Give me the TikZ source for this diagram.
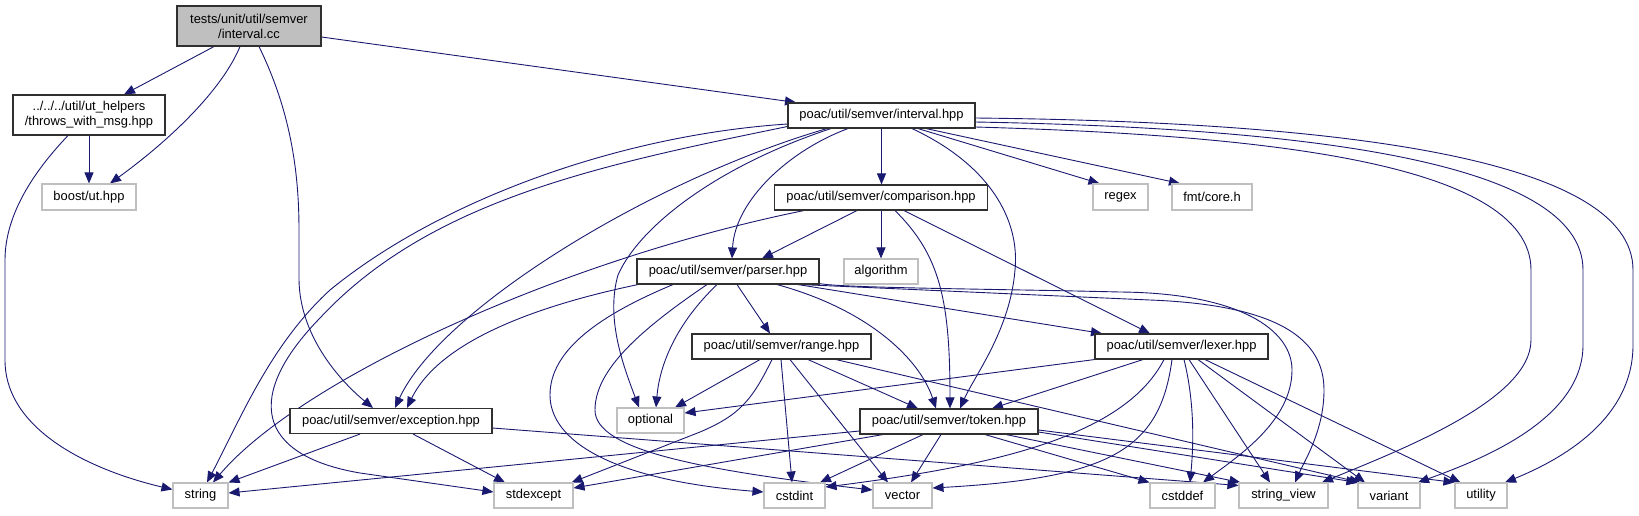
\documentclass[tikz,border=0pt]{standalone}
\usepackage{fontspec}
\setmainfont{Liberation Sans}
\usetikzlibrary{arrows.meta}
\pgfdeclarelayer{bg}
\pgfsetlayers{bg,main}
\definecolor{edgecol}{HTML}{191970}
\definecolor{extgray}{HTML}{BFBFBF}
\definecolor{rootgray}{HTML}{BFBFBF}
\definecolor{docborder}{HTML}{303030}
\tikzset{
  box/.style={draw=docborder, line width=1.1pt, fill=white, inner sep=0pt, align=center,
              font=\fontsize{12.9pt}{15pt}\selectfont},
  ext/.style={box, draw=extgray},
  root/.style={box, fill=rootgray},
  sz/.style 2 args={minimum width=#1pt, minimum height=#2pt},
  dep/.style={draw=edgecol, line width=0.9pt, -{Triangle[length=11pt,width=9pt]}},
}
\begin{document}
\begin{tikzpicture}[x=1pt,y=-1pt]
\useasboundingbox (0,0) rectangle (1639,515);
% nodes
\node[root, sz={144}{40}] (cc) at (249,26) {tests/unit/util/semver\\/interval.cc};
\node[box, sz={152}{40}] (th) at (89,115) {../../../util/ut\_helpers\\/throws\_with\_msg.hpp};
\node[ext, sz={94}{26}] (boost) at (89,197) {boost/ut.hpp};
\node[box, sz={187}{25}] (ihpp) at (881.5,115.5) {poac/util/semver/interval.hpp};
\node[box, sz={213}{25}] (cmp) at (881,197.5) {poac/util/semver/comparison.hpp};
\node[ext, sz={55}{26}] (regex) at (1120.5,197) {regex};
\node[ext, sz={80}{26}] (fmt) at (1212,197) {fmt/core.h};
\node[box, sz={182}{25}] (parser) at (728,271.5) {poac/util/semver/parser.hpp};
\node[ext, sz={74}{25}] (algo) at (881,271.5) {algorithm};
\node[box, sz={179}{25}] (range) at (781.5,346.5) {poac/util/semver/range.hpp};
\node[box, sz={173}{25}] (lexer) at (1181.5,346.5) {poac/util/semver/lexer.hpp};
\node[box, sz={202}{25}] (exc) at (391,421) {poac/util/semver/exception.hpp};
\node[ext, sz={67}{25}] (opt) at (650.5,420.5) {optional};
\node[box, sz={178}{25}] (token) at (949,421.5) {poac/util/semver/token.hpp};
\node[ext, sz={55}{25}] (string) at (200.5,495.5) {string};
\node[ext, sz={79}{25}] (stdexcept) at (533.5,495.5) {stdexcept};
\node[ext, sz={61}{25}] (cstdint) at (794.5,495.5) {cstdint};
\node[ext, sz={59}{25}] (vector) at (902.5,495.5) {vector};
\node[ext, sz={65}{25}] (cstddef) at (1182.5,495.5) {cstddef};
\node[ext, sz={89}{25}] (sview) at (1283.5,495.5) {string\_view};
\node[ext, sz={62}{25}] (variant) at (1389,495.5) {variant};
\node[ext, sz={52}{25}] (utility) at (1481,495.5) {utility};
\begin{pgfonlayer}{bg}
% interval.cc
\draw[dep] ([xshift=-35pt]cc.south) -- ([xshift=35pt]th.north);
\draw[dep] ([xshift=-9pt]cc.south) .. controls (222,90) and (170,140) .. ([xshift=21pt]boost.north);
\draw[dep] ([xshift=10pt]cc.south) .. controls (290,110) and (299,170) .. (299,230) -- (299,280) .. controls (300,340) and (345,385) .. ([xshift=-18pt]exc.north);
\draw[dep] ([yshift=-11pt]cc.east) -- ([xshift=-85.5pt]ihpp.north);
% throws_with_msg
\draw[dep] (th.south) -- (boost.north);
\draw[dep] ([xshift=-21pt]th.south) .. controls (40,165) and (5,210) .. (5,260) -- (5,360) .. controls (5,430) and (90,470) .. ([yshift=6pt]string.west);
% interval.hpp
\draw[dep] (ihpp.south) -- (ihpp.south |- cmp.north);
\draw[dep] ([xshift=-33.5pt]ihpp.south) .. controls (790,150) and (735,200) .. ([xshift=4pt]parser.north);
\draw[dep] ([xshift=-54.5pt]ihpp.south) .. controls (650,180) and (440,310) .. ([xshift=4pt]exc.north);
\draw[dep] ([xshift=-50.5pt]ihpp.south) .. controls (720,165) and (640,225) .. (618,275) .. controls (605,320) and (625,370) .. ([xshift=-11.5pt]opt.north);
\draw[dep] ([yshift=-8.5pt]ihpp.west) .. controls (620,135) and (440,200) .. (330,290) .. controls (270,345) and (240,420) .. ([xshift=6.5pt]string.north);
\draw[dep] ([yshift=-11pt]ihpp.west) .. controls (600,165) and (430,200) .. (320,318) .. controls (245,395) and (255,455) .. (360,473) -- ([yshift=3.5pt]stdexcept.west);
\draw[dep] ([xshift=30.5pt]ihpp.south) .. controls (990,165) and (1020,220) .. (1015,270) .. controls (1010,330) and (975,375) .. ([xshift=11pt]token.north);
\draw[dep] ([xshift=36.5pt]ihpp.south) -- ([xshift=7pt]regex.north west);
\draw[dep] ([xshift=44.5pt]ihpp.south) -- ([xshift=-32pt]fmt.north);
\draw[dep] ([yshift=-11.5pt]ihpp.east) .. controls (1250,135) and (1531,160) .. (1531,270) -- (1531,340) .. controls (1531,400) and (1400,450) .. ([xshift=38.5pt]sview.north);
\draw[dep] ([yshift=-6.5pt]ihpp.east) .. controls (1300,128) and (1583,160) .. (1583,270) -- (1583,345) .. controls (1583,420) and (1480,460) .. ([xshift=29pt]variant.north);
\draw[dep] ([yshift=-2.5pt]ihpp.east) .. controls (1350,122) and (1633,160) .. (1633,270) -- (1633,345) .. controls (1633,420) and (1560,460) .. ([xshift=24pt]utility.north);
% comparison
\draw[dep] ([xshift=-24pt]cmp.south) -- ([xshift=34pt]parser.north);
\draw[dep] (cmp.south) -- (algo.north);
\draw[dep] ([xshift=14pt]cmp.south) .. controls (940,255) and (950,300) .. ([xshift=1pt]token.north);
\draw[dep] ([xshift=23pt]cmp.south) -- ([xshift=-31.5pt]lexer.north);
\draw[dep] ([xshift=-77pt]cmp.south) .. controls (560,260) and (300,380) .. ([xshift=12.5pt]string.north);
% parser
\draw[dep] ([xshift=-90pt]parser.south) .. controls (540,305) and (440,340) .. ([xshift=16pt]exc.north);
\draw[dep] ([xshift=-11pt]parser.south) .. controls (680,320) and (660,360) .. ([xshift=5.5pt]opt.north);
\draw[dep] ([xshift=9pt]parser.south) -- ([xshift=-11.5pt]range.north);
\draw[dep] ([xshift=49pt]parser.south) .. controls (870,310) and (920,360) .. ([xshift=-13pt]token.north);
\draw[dep] ([xshift=70pt]parser.south) -- ([xshift=-79.5pt]lexer.north);
\draw[dep] ([xshift=-55pt]parser.south) .. controls (600,315) and (550,350) .. (550,395) .. controls (550,440) and (610,480) .. ([yshift=3.5pt]cstdint.west);
\draw[dep] ([xshift=-21pt]parser.south) .. controls (640,330) and (595,370) .. (595,410) .. controls (595,450) and (700,470) .. ([yshift=5.5pt]vector.west);
\draw[dep] ([yshift=1pt]parser.south east) .. controls (840,288) and (1000,289) .. (1120,292) .. controls (1240,293) and (1292,330) .. (1292,370) .. controls (1292,420) and (1240,455) .. ([xshift=20.5pt]cstddef.north);
\draw[dep] ([xshift=73pt]parser.south) -- (1150,300) .. controls (1280,305) and (1324,340) .. (1324,390) .. controls (1324,430) and (1305,460) .. ([xshift=11.5pt]sview.north);
% range
\draw[dep] ([xshift=-21.5pt]range.south) -- ([xshift=24.5pt]opt.north);
\draw[dep] ([xshift=-9.5pt]range.south) .. controls (752,400) and (740,415) .. (700,432) -- ([xshift=-2pt]stdexcept.north east);
\draw[dep] ([xshift=-0.5pt]range.south) -- ([xshift=-2.5pt]cstdint.north);
\draw[dep] ([xshift=8.5pt]range.south) -- ([xshift=-14.5pt]vector.north);
\draw[dep] ([xshift=26.5pt]range.south) -- ([xshift=-31pt]token.north);
\draw[dep] ([xshift=54.5pt]range.south) -- ([xshift=3pt]variant.north west);
% lexer
\draw[dep] (lexer.south west) -- ([yshift=7.5pt]opt.east);
\draw[dep] ([xshift=-38.5pt]lexer.south) -- ([xshift=43pt]token.north);
\draw[dep] ([xshift=-17.5pt]lexer.south) .. controls (1125,435) and (1000,465) .. ([yshift=8.5pt]cstdint.east);
\draw[dep] ([xshift=-9.5pt]lexer.south) .. controls (1160,450) and (1110,478) .. ([yshift=7.5pt]vector.east);
\draw[dep] ([xshift=2.5pt]lexer.south) .. controls (1194,400) and (1194,440) .. ([xshift=7.5pt]cstddef.north);
\draw[dep] ([xshift=7.5pt]lexer.south) -- ([xshift=-13.5pt]sview.north);
\draw[dep] ([xshift=16.5pt]lexer.south) -- ([xshift=-24pt]variant.north);
\draw[dep] ([xshift=23.5pt]lexer.south) -- ([xshift=6pt]utility.north west);
% exception
\draw[dep] ([xshift=-31pt]exc.south) -- (string.north east);
\draw[dep] ([xshift=22pt]exc.south) -- ([xshift=-28.5pt]stdexcept.north);
\draw[dep] ([yshift=-7pt]exc.east) -- ([yshift=-3pt]sview.north west);
% token
\draw[dep] ([yshift=-9.5pt]token.west) -- ([yshift=2.5pt]string.east);
\draw[dep] ([xshift=-66pt]token.south) -- ([yshift=7.5pt]stdexcept.east);
\draw[dep] ([xshift=-26pt]token.south) -- ([xshift=25.5pt]cstdint.north);
\draw[dep] ([xshift=-8pt]token.south) -- ([xshift=8.5pt]vector.north);
\draw[dep] ([xshift=36pt]token.south) -- (cstddef.north west);
\draw[dep] ([xshift=57pt]token.south) -- ([xshift=2pt]sview.north west);
\draw[dep] ([yshift=-10.5pt]token.east) -- (variant.north west);
\draw[dep] ([yshift=-8.5pt]token.east) -- (utility.north west);
\end{pgfonlayer}
\end{tikzpicture}
\end{document}
